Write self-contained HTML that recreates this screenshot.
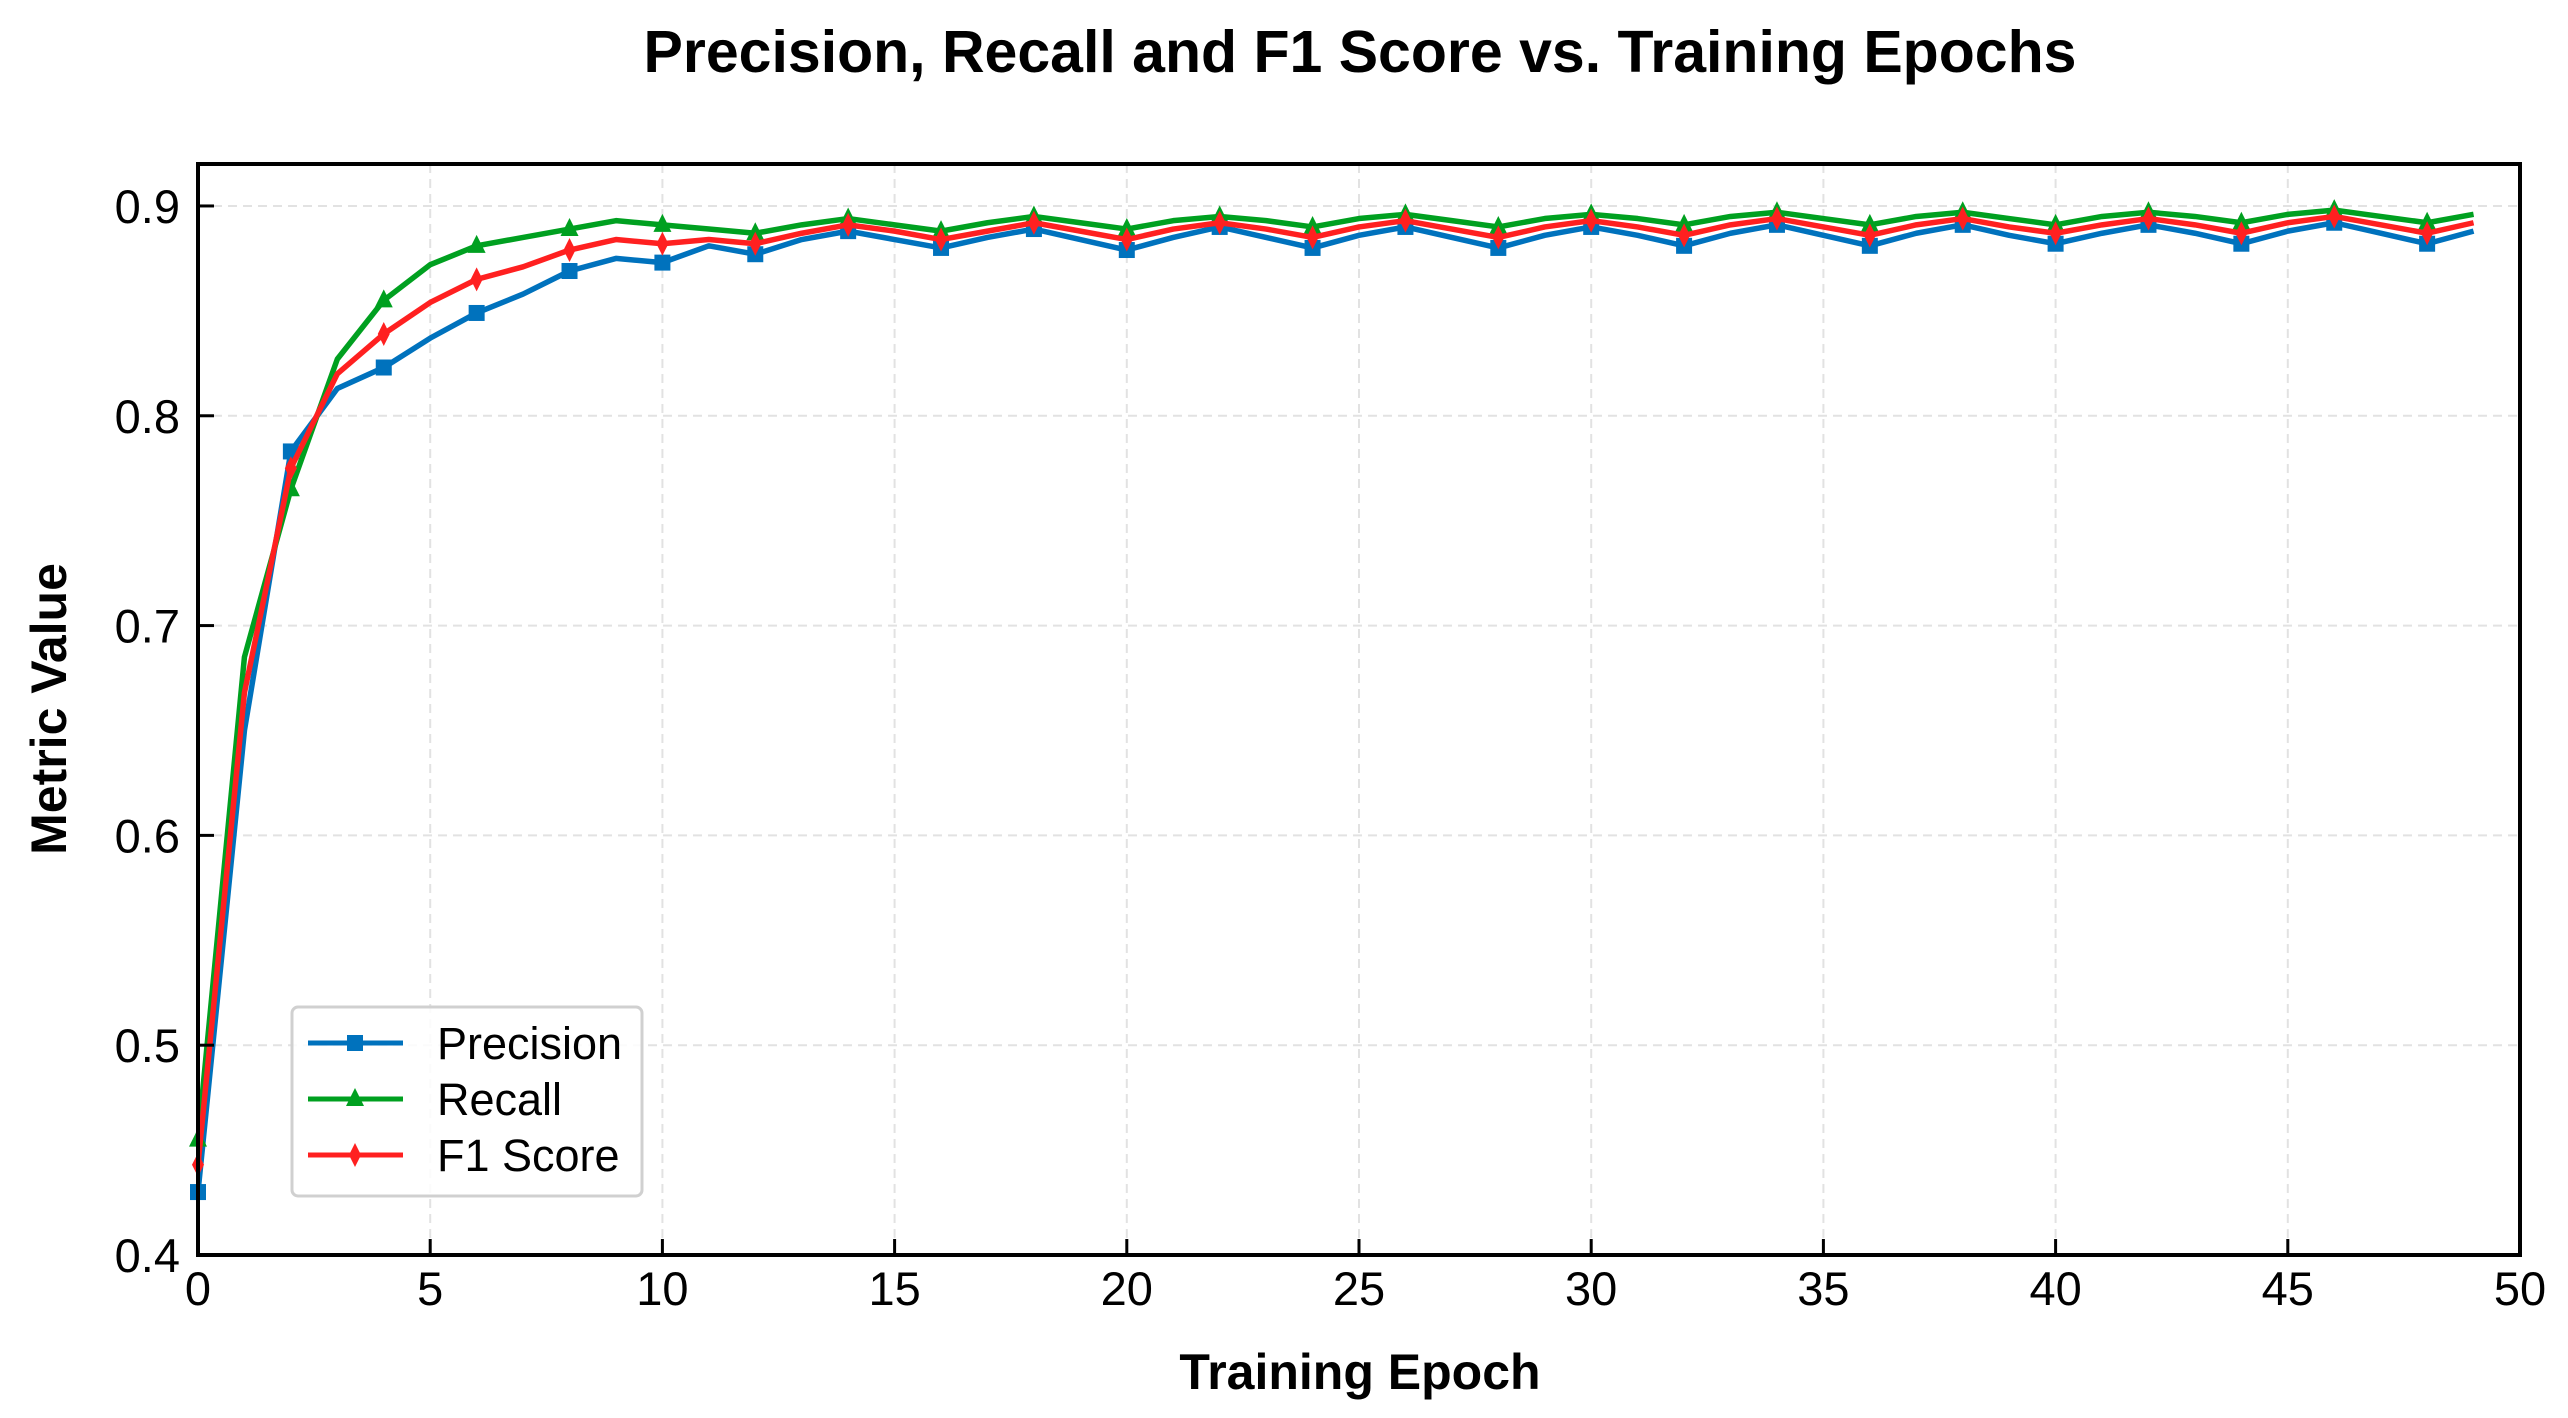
<!DOCTYPE html>
<html><head><meta charset="utf-8"><style>
html,body{margin:0;padding:0;background:#fff;}
svg{display:block;font-family:"Liberation Sans",Arial,sans-serif;}
</style></head><body>
<svg id="chart" width="2568" height="1418" viewBox="0 0 2568 1418" xmlns="http://www.w3.org/2000/svg">
<text x="1360" y="72" text-anchor="middle" font-size="59" font-weight="bold" fill="#000">Precision, Recall and F1 Score vs. Training Epochs</text>
<g id="grid"></g>
<g id="series"></g>
<rect x="198" y="164" width="2322" height="1091" fill="none" stroke="#000" stroke-width="4"/>
<g id="ticks"></g>
<text x="1360" y="1389" text-anchor="middle" font-size="50" font-weight="bold">Training Epoch</text>
<text transform="translate(66,709) rotate(-90)" text-anchor="middle" font-size="50" font-weight="bold">Metric Value</text>
<g id="legend"></g>
</svg>
<script>
const precision = [0.430,0.650,0.783,0.813,0.823,0.837,0.849,0.858,0.869,0.875,0.873,0.881,0.877,0.884,0.888,0.884,0.880,0.885,0.889,0.884,0.879,0.885,0.890,0.885,0.880,0.886,0.890,0.885,0.880,0.886,0.890,0.886,0.881,0.887,0.891,0.886,0.881,0.887,0.891,0.886,0.882,0.887,0.891,0.887,0.882,0.888,0.892,0.887,0.882,0.888];
const recall = [0.455,0.685,0.765,0.827,0.855,0.872,0.881,0.885,0.889,0.893,0.891,0.889,0.887,0.891,0.894,0.891,0.888,0.892,0.895,0.892,0.889,0.893,0.895,0.893,0.890,0.894,0.896,0.893,0.890,0.894,0.896,0.894,0.891,0.895,0.897,0.894,0.891,0.895,0.897,0.894,0.891,0.895,0.897,0.895,0.892,0.896,0.898,0.895,0.892,0.896];
const f1 = [0.443,0.668,0.775,0.820,0.839,0.854,0.865,0.871,0.879,0.884,0.882,0.884,0.882,0.887,0.891,0.888,0.884,0.888,0.892,0.888,0.884,0.889,0.892,0.889,0.885,0.890,0.893,0.889,0.885,0.890,0.893,0.890,0.886,0.891,0.894,0.890,0.886,0.891,0.894,0.890,0.887,0.891,0.894,0.891,0.887,0.892,0.895,0.891,0.887,0.892];
const xTicks = [0,5,10,15,20,25,30,35,40,45,50];
const yTicks = [0.4,0.5,0.6,0.7,0.8,0.9];
const seriesNames = ["Precision","Recall","F1 Score"];

const NS="http://www.w3.org/2000/svg";
const X0=198,X1=2520,Y0=1255,Y1=164;
const xs=v=>X0+(v-0)/(50-0)*(X1-X0);
const ys=v=>Y0-(v-0.4)/(0.92-0.4)*(Y0-Y1);
function mk(tag,attrs,parent){const e=document.createElementNS(NS,tag);for(const k in attrs)e.setAttribute(k,attrs[k]);parent.appendChild(e);return e;}
const grid=document.getElementById('grid'),ticks=document.getElementById('ticks'),ser=document.getElementById('series'),leg=document.getElementById('legend');
xTicks.forEach(t=>{
  const x=xs(t);
  if(t>0&&t<50){const g=mk('line',{x1:x,x2:x,y1:Y1,y2:Y0,stroke:'#e2e2e2','stroke-width':2,'stroke-dasharray':'9,6'},grid);
  
  }
  const tk=mk('line',{x1:x,x2:x,y1:Y0,y2:Y0-16,stroke:'#000','stroke-width':3},ticks);
  
  
  const tx=mk('text',{x:x,y:1305,'text-anchor':'middle','font-size':47},ticks);tx.textContent=t;
  
  
});
yTicks.forEach(t=>{
  const y=ys(t);
  if(t>0.4){const g=mk('line',{x1:X0,x2:X1,y1:y,y2:y,stroke:'#e2e2e2','stroke-width':2,'stroke-dasharray':'9,6'},grid);
  
  }
  const tk=mk('line',{x1:X0,x2:X0+16,y1:y,y2:y,stroke:'#000','stroke-width':3},ticks);
  
  
  const tx=mk('text',{x:180,y:y+17,'text-anchor':'end','font-size':47},ticks);tx.textContent=t.toFixed(1);
  
  
});
function marker(type,x,y,color,parent){
  let e;
  if(type==='s') e=mk('rect',{x:x-8,y:y-8,width:16,height:16,fill:color},parent);
  else if(type==='^') e=mk('polygon',{points:`${x},${y-11} ${x+9},${y+7} ${x-9},${y+7}`,fill:color},parent);
  else e=mk('polygon',{points:`${x},${y-12} ${x+6},${y} ${x},${y+12} ${x-6},${y}`,fill:color},parent);
  return e;
}
const defs=[[precision,'#0072bd','s'],[recall,'#00a020','^'],[f1,'#ff2020','d']];
defs.forEach(([data,color,m],i)=>{
  const g=mk('g',{},ser);
  
  
  const pts=data.map((v,k)=>xs(k)+','+ys(v)).join(' ');
  const l=mk('polyline',{points:pts,fill:'none',stroke:color,'stroke-width':5.5,'stroke-linejoin':'round'},g);
  
  
  data.forEach((v,k)=>{if(k%2===0){const p=marker(m,xs(k),ys(v),color,g);
    
    }});
  const ly=1043+i*56;
  const le=mk('g',{},leg);
  
  
  mk('line',{x1:308,x2:403,y1:ly,y2:ly,stroke:color,'stroke-width':5},le);
  marker(m,355,ly,color,le);
  const t=mk('text',{x:437,y:ly+16,'font-size':45},le);t.textContent=seriesNames[i];
});
const box=mk('rect',{x:292,y:1007,width:350,height:189,rx:6,fill:'#fff','fill-opacity':0.85,stroke:'#d0d0d0','stroke-width':3},leg);
leg.insertBefore(box,leg.firstChild);


</script>
</body></html>
